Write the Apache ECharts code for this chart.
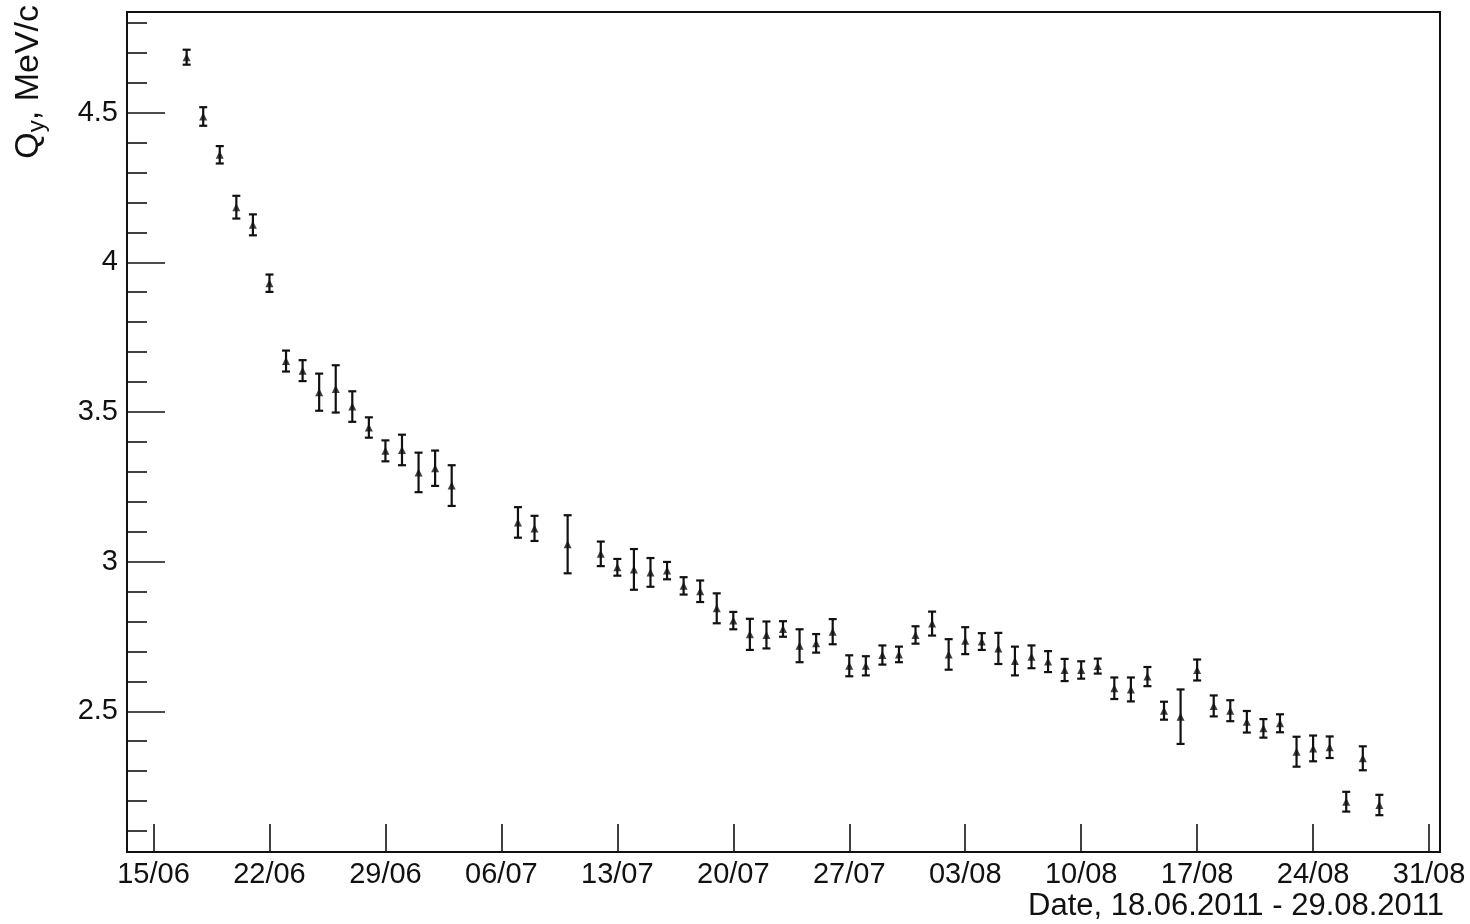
<!DOCTYPE html>
<html>
<head>
<meta charset="utf-8">
<title>Q_y vs date</title>
<script src="https://cdn.jsdelivr.net/npm/echarts@6/dist/echarts.min.js"></script>
<style>
  html, body { margin: 0; padding: 0; background: #fff; }
  #chart { width: 1470px; height: 924px; }
</style>
</head>
<body>
<div id="chart"></div>
<script>
// Daily measurements of Q_y (MeV/c) with statistical errors
const dates = [
  '2011-06-17','2011-06-18','2011-06-19','2011-06-20','2011-06-21','2011-06-22',
  '2011-06-23','2011-06-24','2011-06-25','2011-06-26','2011-06-27','2011-06-28',
  '2011-06-29','2011-06-30','2011-07-01','2011-07-02','2011-07-03',
  '2011-07-07','2011-07-08','2011-07-10',
  '2011-07-12','2011-07-13','2011-07-14','2011-07-15','2011-07-16','2011-07-17',
  '2011-07-18','2011-07-19','2011-07-20','2011-07-21','2011-07-22','2011-07-23',
  '2011-07-24','2011-07-25','2011-07-26','2011-07-27','2011-07-28','2011-07-29',
  '2011-07-30','2011-07-31','2011-08-01','2011-08-02','2011-08-03','2011-08-04',
  '2011-08-05','2011-08-06','2011-08-07','2011-08-08','2011-08-09','2011-08-10',
  '2011-08-11','2011-08-12','2011-08-13','2011-08-14','2011-08-15','2011-08-16',
  '2011-08-17','2011-08-18','2011-08-19','2011-08-20','2011-08-21','2011-08-22',
  '2011-08-23','2011-08-24','2011-08-25','2011-08-26','2011-08-27','2011-08-28'
];

const qy = [
  4.685, 4.487, 4.359, 4.184, 4.125, 3.930,
  3.670, 3.638, 3.566, 3.577, 3.518, 3.448,
  3.370, 3.373, 3.298, 3.312, 3.254,
  3.131, 3.111, 3.058,
  3.026, 2.981, 2.974, 2.964, 2.970, 2.919,
  2.901, 2.844, 2.803, 2.757, 2.755, 2.775,
  2.719, 2.727, 2.766, 2.652, 2.652, 2.688,
  2.690, 2.755, 2.793, 2.690, 2.736, 2.733,
  2.710, 2.668, 2.682, 2.666, 2.638, 2.638,
  2.651, 2.577, 2.573, 2.616, 2.502, 2.482,
  2.638, 2.518, 2.502, 2.465, 2.443, 2.460,
  2.365, 2.376, 2.380, 2.198, 2.343, 2.187
];

const qyErr = [
  0.025, 0.031, 0.029, 0.038, 0.035, 0.029,
  0.035, 0.035, 0.062, 0.079, 0.051, 0.034,
  0.035, 0.051, 0.066, 0.059, 0.068,
  0.051, 0.042, 0.097,
  0.041, 0.028, 0.068, 0.048, 0.029, 0.029,
  0.036, 0.050, 0.029, 0.052, 0.045, 0.026,
  0.055, 0.031, 0.042, 0.035, 0.032, 0.032,
  0.026, 0.029, 0.040, 0.051, 0.045, 0.028,
  0.052, 0.048, 0.038, 0.035, 0.037, 0.029,
  0.025, 0.036, 0.040, 0.032, 0.030, 0.091,
  0.035, 0.035, 0.035, 0.036, 0.031, 0.030,
  0.050, 0.043, 0.036, 0.033, 0.040, 0.034
];

// Axis ticks: weekly dates on x (days since 15/06/2011), 0.5 / 0.1 steps on y
const xTickDays = [0, 7, 14, 21, 28, 35, 42, 49, 56, 63, 70, 77];
const yMajorTicks = [2.5, 3, 3.5, 4, 4.5];
const yMinorTicks = [2.1, 2.2, 2.3, 2.4, 2.6, 2.7, 2.8, 2.9, 3.1, 3.2, 3.3, 3.4,
                     3.6, 3.7, 3.8, 3.9, 4.1, 4.2, 4.3, 4.4, 4.6, 4.7, 4.8];

const xTitle = 'Date, 18.06.2011 - 29.08.2011';

const DAY = 86400000;
const origin = Date.parse('2011-06-15');
const dayOf = s => (Date.parse(s) - origin) / DAY;
const pad = n => (n < 10 ? '0' : '') + n;
const dayLabel = d => {
  const t = new Date(origin + Math.round(d) * DAY);
  return pad(t.getUTCDate()) + '/' + pad(t.getUTCMonth() + 1);
};

const points = dates.map((s, i) => [dayOf(s), qy[i]]);
const bars = dates.map((s, i) => [dayOf(s), qy[i] - qyErr[i], qy[i] + qyErr[i]]);

const FONT = "'Liberation Sans', Arial, Helvetica, sans-serif";
const INK = '#111';

const chart = echarts.init(document.getElementById('chart'), null, { renderer: 'canvas' });

chart.setOption({
  backgroundColor: '#fff',
  animation: false,
  grid: {
    left: 127, right: 30, top: 12, bottom: 72,
    show: true, borderColor: INK, borderWidth: 2, backgroundColor: 'transparent'
  },
  xAxis: {
    type: 'value',
    min: -1.6, max: 77.66,
    axisLine: { show: true, onZero: false, lineStyle: { color: INK, width: 2 } },
    axisTick: { show: true, inside: true, length: 28, customValues: xTickDays,
                lineStyle: { color: INK, width: 1.6 } },
    axisLabel: { show: true, customValues: xTickDays, formatter: dayLabel,
                 color: INK, fontSize: 29, fontFamily: FONT, margin: 8 },
    splitLine: { show: false }
  },
  yAxis: [
    {
      type: 'value',
      min: 2.03, max: 4.836,
      axisLine: { show: true, onZero: false, lineStyle: { color: INK, width: 2 } },
      axisTick: { show: true, inside: true, length: 38, customValues: yMajorTicks,
                  lineStyle: { color: INK, width: 1.6 } },
      axisLabel: { show: true, customValues: yMajorTicks, formatter: v => String(v),
                   color: INK, fontSize: 29, fontFamily: FONT, margin: 9 },
      splitLine: { show: false }
    },
    {
      // minor ticks, sharing the left edge with the labelled axis
      type: 'value',
      position: 'left',
      min: 2.03, max: 4.836,
      axisLine: { show: false, onZero: false },
      axisTick: { show: true, inside: true, length: 20, customValues: yMinorTicks,
                  lineStyle: { color: INK, width: 1.6 } },
      axisLabel: { show: false },
      splitLine: { show: false }
    }
  ],
  series: [
    {
      type: 'custom',
      xAxisIndex: 0, yAxisIndex: 0,
      data: bars,
      encode: { x: 0, y: [1, 2] },
      renderItem: (params, api) => {
        const lo = api.coord([api.value(0), api.value(1)]);
        const hi = api.coord([api.value(0), api.value(2)]);
        const cap = 4;
        const style = { stroke: INK, lineWidth: 2.2 };
        return {
          type: 'group',
          children: [
            { type: 'line', shape: { x1: lo[0], y1: lo[1], x2: hi[0], y2: hi[1] }, style },
            { type: 'line', shape: { x1: hi[0] - cap, y1: hi[1], x2: hi[0] + cap, y2: hi[1] }, style },
            { type: 'line', shape: { x1: lo[0] - cap, y1: lo[1], x2: lo[0] + cap, y2: lo[1] }, style }
          ]
        };
      },
      z: 2
    },
    {
      type: 'scatter',
      xAxisIndex: 0, yAxisIndex: 0,
      data: points,
      symbol: 'triangle',
      symbolSize: [8, 8],
      itemStyle: { color: INK },
      z: 3
    }
  ],
  graphic: [
    {
      type: 'text',
      right: 26, top: 891,
      style: { text: xTitle, font: '31px ' + FONT, fill: INK }
    },
    {
      type: 'text',
      x: 29, y: 5,
      rotation: Math.PI / 2,
      style: {
        text: '{q|Q}{s|y}{t|, MeV/c}',
        align: 'right',
        verticalAlign: 'middle',
        fill: INK,
        rich: {
          q: { fontSize: 34, fontFamily: FONT, lineHeight: 40, fill: INK },
          s: { fontSize: 24, fontFamily: FONT, lineHeight: 40, padding: [16, 0, 0, 0], fill: INK },
          t: { fontSize: 34, fontFamily: FONT, lineHeight: 40, fill: INK }
        }
      }
    }
  ]
});
</script>
</body>
</html>
